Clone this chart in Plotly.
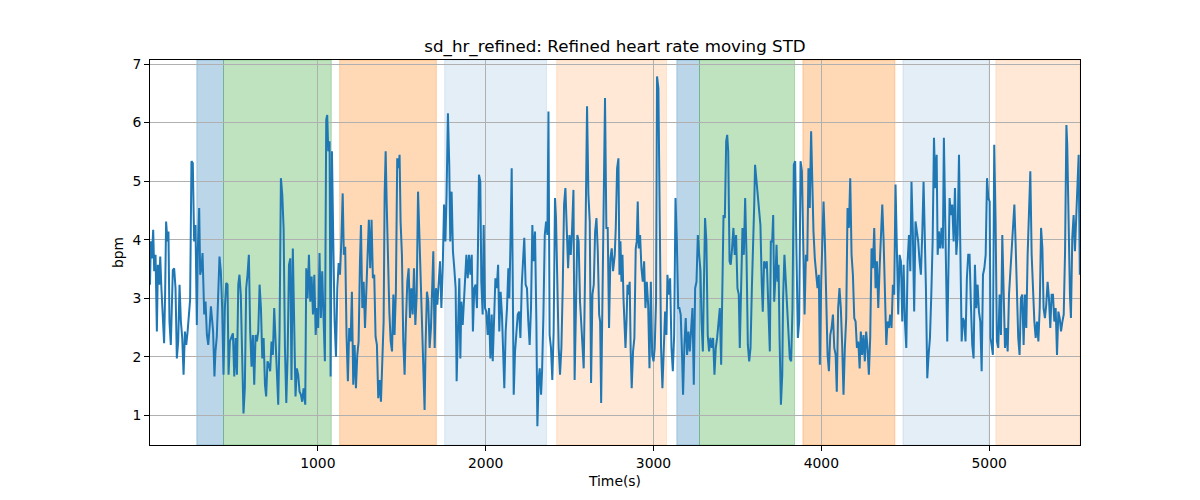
import plotly.graph_objects as go

# ---- data ----
time_s = [
    0, 5, 11, 19, 25, 33, 41, 47, 55, 61, 68, 76, 84, 90, 96, 104, 110, 116, 124, 130,
    136, 144, 152, 160, 168, 176, 184, 192, 200, 208, 216, 224, 231, 239, 247, 255, 263, 271, 279, 285,
    293, 299, 307, 313, 323, 331, 339, 347, 355, 363, 371, 376, 384, 390, 398, 406, 414, 422, 430, 438,
    446, 454, 462, 468, 476, 486, 494, 502, 510, 518, 526, 533, 541, 549, 557, 565, 573, 581, 589, 597,
    605, 613, 621, 629, 637, 645, 653, 661, 669, 677, 685, 692, 700, 708, 716, 724, 732, 740, 748, 756,
    764, 772, 780, 788, 796, 804, 812, 820, 828, 836, 843, 851, 859, 867, 875, 883, 891, 899, 907, 915,
    925, 931, 939, 947, 955, 963, 971, 979, 987, 995, 1002, 1010, 1018, 1026, 1034, 1042, 1050, 1056, 1062, 1070,
    1076, 1084, 1092, 1100, 1108, 1116, 1124, 1132, 1140, 1148, 1155, 1163, 1171, 1179, 1187, 1195, 1203, 1211, 1219, 1227,
    1235, 1243, 1251, 1257, 1265, 1273, 1281, 1289, 1297, 1304, 1312, 1320, 1328, 1336, 1344, 1352, 1360, 1368, 1376, 1384,
    1392, 1398, 1404, 1410, 1418, 1426, 1434, 1442, 1450, 1457, 1465, 1473, 1481, 1487, 1493, 1501, 1509, 1517, 1525, 1533,
    1541, 1549, 1557, 1565, 1573, 1581, 1589, 1597, 1605, 1612, 1620, 1628, 1636, 1642, 1650, 1658, 1666, 1674, 1682, 1688,
    1696, 1704, 1712, 1720, 1728, 1736, 1744, 1752, 1760, 1767, 1775, 1783, 1789, 1797, 1805, 1813, 1821, 1827, 1835, 1843,
    1849, 1855, 1863, 1869, 1877, 1885, 1893, 1901, 1909, 1917, 1924, 1932, 1940, 1948, 1954, 1960, 1968, 1974, 1982, 1988,
    1996, 2004, 2012, 2020, 2028, 2036, 2042, 2050, 2058, 2066, 2074, 2081, 2089, 2097, 2105, 2111, 2119, 2127, 2135, 2141,
    2147, 2155, 2161, 2167, 2175, 2183, 2191, 2199, 2207, 2215, 2223, 2230, 2238, 2246, 2254, 2262, 2270, 2278, 2286, 2294,
    2302, 2308, 2316, 2322, 2330, 2336, 2344, 2352, 2360, 2368, 2374, 2381, 2389, 2397, 2405, 2413, 2419, 2427, 2435, 2443,
    2451, 2459, 2467, 2475, 2483, 2491, 2499, 2507, 2515, 2523, 2530, 2538, 2546, 2554, 2562, 2570, 2578, 2584, 2592, 2598,
    2604, 2612, 2620, 2628, 2636, 2644, 2652, 2660, 2668, 2676, 2682, 2688, 2695, 2703, 2707, 2711, 2719, 2727, 2735, 2743,
    2751, 2759,
    2769, 2775, 2783, 2791, 2797, 2803, 2809, 2815, 2821, 2827, 2833, 2839, 2845, 2852, 2858, 2864, 2870, 2878, 2886, 2894,
    2900, 2906, 2912, 2920, 2928, 2936, 2944, 2952, 2960, 2968, 2976, 2984, 2992, 3000, 3007, 3015, 3021, 3029, 3037, 3045,
    3053, 3061, 3069, 3077, 3083, 3091, 3099, 3107, 3115, 3123, 3131, 3139, 3147, 3154, 3162, 3170, 3176, 3184, 3192, 3200,
    3208, 3216, 3224, 3232, 3240, 3248, 3256, 3264, 3272, 3280, 3286, 3294, 3300, 3307, 3315, 3323, 3331, 3339, 3347, 3355,
    3363, 3371, 3379, 3387, 3395, 3403, 3409, 3417, 3425, 3433, 3439, 3445, 3453, 3460, 3468, 3476, 3484, 3492, 3500, 3508,
    3514, 3522, 3530, 3538, 3546, 3554, 3562, 3570, 3578, 3586, 3594, 3600, 3605, 3613, 3621, 3629, 3637, 3645, 3651, 3659,
    3667, 3675, 3683,
    3693, 3699, 3707, 3713, 3719, 3727, 3733, 3739, 3745, 3751, 3759, 3767, 3772, 3780, 3788, 3796, 3804, 3812, 3820, 3828,
    3836, 3844, 3852, 3860, 3868, 3876, 3884, 3892, 3900, 3908, 3916, 3923, 3931, 3939, 3945, 3953, 3961, 3969, 3977, 3985,
    3991, 3999, 4005, 4013, 4021, 4029, 4037, 4045, 4053, 4061, 4069, 4077, 4085, 4092, 4100, 4108, 4116, 4124, 4132, 4140,
    4148, 4156, 4164, 4172, 4180, 4188, 4196, 4204, 4212, 4220, 4228, 4235, 4243, 4251, 4259, 4267, 4275, 4283, 4291, 4299,
    4307, 4315, 4323, 4331, 4339, 4347, 4355, 4363, 4371, 4379, 4387, 4394, 4402, 4410, 4418, 4426, 4434, 4442, 4450, 4458,
    4466, 4474, 4482, 4490, 4498, 4506, 4514, 4522, 4530, 4537, 4545, 4553, 4561, 4569, 4577, 4585, 4593, 4601, 4609,
    4623, 4631, 4639, 4647, 4655, 4663, 4671, 4679, 4687, 4693, 4700, 4708, 4716, 4724, 4730, 4738, 4744, 4750, 4758, 4764,
    4772, 4780, 4788, 4796, 4804, 4812, 4820, 4828, 4836, 4844, 4851, 4859, 4867, 4875, 4883, 4891, 4899, 4907, 4915, 4923,
    4931, 4939, 4947, 4955, 4963, 4971, 4979, 4987, 4995, 5003, 5008, 5014, 5022, 5030, 5038, 5046, 5054, 5062, 5070, 5078,
    5086, 5094, 5102, 5110, 5118, 5126, 5134, 5142, 5150, 5157, 5165, 5173, 5181, 5189, 5197, 5205, 5213, 5221, 5229, 5237,
    5245, 5253, 5261, 5269, 5277, 5285, 5293, 5301, 5309, 5317, 5324, 5332, 5340, 5348, 5356, 5364, 5372, 5380, 5388, 5396,
    5404, 5412, 5420, 5428, 5436, 5444, 5452, 5460, 5465, 5473, 5481, 5487, 5495, 5503, 5511, 5519, 5527, 5533, 5540,
]

sd_bpm = [
    3.23, 3.97, 3.68, 4.17, 3.46, 3.74, 2.43, 3.57, 3.23, 3.71, 3.17, 2.77, 2.23, 3.06, 4.31, 3.97, 4.14, 2.60, 2.20, 2.83,
    3.48, 3.51, 3.17, 1.97, 2.26, 3.23, 2.60, 2.32, 1.69, 2.43, 2.20, 2.43, 2.72, 2.97, 5.34, 5.31, 3.97, 4.25, 2.54, 3.85,
    4.54, 3.40, 3.51, 3.77, 2.72, 2.94, 2.37, 2.20, 2.49, 2.86, 2.60, 2.43, 1.66, 2.09, 2.34, 3.17, 3.71, 3.46, 2.83, 1.69,
    2.83, 3.26, 3.23, 1.69, 2.26, 2.34, 2.40, 1.66, 2.32, 1.69, 3.23, 3.40, 3.06, 2.03, 1.03, 1.46, 3.17, 3.40, 3.74, 2.43,
    1.83, 2.37, 1.52, 2.37, 2.26, 2.43, 3.23, 2.83, 1.97, 2.32, 1.52, 1.32, 1.92, 1.86, 1.75, 2.26, 2.03, 2.83, 2.32, 1.92,
    1.18, 2.43, 5.05, 4.77, 4.20, 2.15, 1.21, 2.03, 3.57, 3.68, 1.60, 3.85, 2.26, 1.32, 1.80, 1.69, 1.40, 1.35, 1.23, 1.46,
    1.18, 3.51, 3.00, 3.74, 2.94, 3.37, 2.72, 3.40, 2.37, 2.83, 2.49, 3.77, 2.66, 3.46, 2.66, 1.92, 6.05, 6.13, 5.51, 5.68,
    1.66, 5.51, 3.97, 2.60, 2.00, 3.17, 3.60, 3.40, 3.97, 4.79, 3.74, 3.88, 2.37, 1.58, 2.49, 2.26, 3.11, 1.52, 2.20, 1.46,
    2.03, 2.26, 3.63, 4.25, 2.83, 3.28, 2.49, 3.28, 3.74, 4.34, 3.51, 4.34, 3.34, 3.40, 2.34, 2.20, 1.29, 1.60, 1.23, 1.97,
    2.60, 4.77, 5.51, 4.65, 3.63, 2.77, 2.26, 2.09, 3.06, 2.37, 3.11, 5.39, 5.22, 5.45, 4.31, 3.74, 2.26, 1.69, 2.60, 3.28,
    3.51, 2.66, 3.17, 2.72, 3.51, 2.54, 3.06, 4.82, 4.08, 3.40, 3.00, 2.20, 1.09, 2.20, 3.11, 2.94, 2.15, 2.49, 3.51, 3.80,
    2.15, 3.17, 2.89, 3.40, 3.63, 2.83, 3.51, 4.60, 3.97, 4.77, 6.16, 5.28, 3.97, 4.82, 3.80, 3.51, 3.17, 1.58, 2.60, 3.34,
    1.97, 2.94, 2.54, 2.83, 3.40, 3.74, 3.34, 3.74, 3.40, 3.74, 2.43, 3.17, 3.23, 2.83, 3.85, 5.11, 4.99, 3.28, 2.72, 4.25,
    2.83, 2.77, 2.37, 2.83, 1.97, 2.72, 1.92, 2.83, 3.34, 3.17, 3.57, 2.43, 3.11, 2.72, 1.69, 1.46, 2.43, 2.83, 3.51, 3.00,
    3.85, 5.22, 3.40, 1.35, 2.09, 2.43, 2.72, 2.77, 2.32, 3.23, 3.57, 4.03, 3.23, 3.17, 2.60, 2.20, 2.83, 4.25, 3.63, 4.14,
    2.60, 0.81, 1.63, 1.80, 1.35, 1.75, 2.72, 4.08, 4.31, 4.08, 6.19, 2.37, 2.15, 1.60, 2.43, 4.71, 4.37, 3.17, 2.15, 1.69,
    2.15, 3.17, 4.60, 4.88, 3.97, 3.51, 4.08, 3.74, 4.20, 4.85, 1.60, 2.72, 4.08, 3.97, 2.94, 2.54, 2.20, 1.80, 3.40, 5.17,
    6.28, 4.77, 4.31, 1.55, 3.06, 3.23, 4.14, 4.37, 3.80, 2.72, 2.60, 1.21, 2.94, 4.31, 6.16, 6.42, 4.20, 4.20, 2.49, 3.68,
    3.85, 3.46,
    3.74, 4.20, 5.22, 5.39, 3.40, 3.97, 3.28, 3.74, 3.00, 2.60, 2.15, 2.60, 3.23, 3.06, 3.28, 2.09, 1.46, 2.09, 2.32, 3.85,
    3.97, 4.65, 3.85, 4.08, 3.51, 3.28, 3.63, 2.83, 3.28, 2.89, 1.80, 3.28, 2.03, 1.92, 2.15, 2.94, 6.79, 6.59, 4.31, 2.15,
    1.46, 2.03, 2.77, 2.37, 3.40, 3.06, 3.34, 2.15, 1.75, 2.37, 4.71, 3.97, 2.83, 2.83, 2.72, 2.03, 1.35, 2.20, 2.66, 2.03,
    2.43, 2.09, 2.60, 2.83, 1.52, 3.17, 3.28, 4.08, 3.74, 3.46, 2.60, 2.09, 3.17, 4.37, 3.97, 2.37, 2.09, 2.32, 2.15, 2.32,
    1.69, 2.15, 2.32, 2.54, 2.83, 1.86, 3.17, 4.42, 4.37, 5.68, 5.79, 5.51, 3.63, 3.57, 3.85, 4.20, 3.74, 4.08, 3.17, 3.06,
    2.15, 3.28, 4.20, 3.74, 4.71, 3.74, 2.20, 1.92, 2.15, 3.17, 3.85, 4.60, 5.28, 4.99, 4.71, 4.42, 4.25, 3.23, 2.77, 3.63,
    3.51, 3.63, 3.06,
    2.09, 3.97, 3.97, 4.42, 2.94, 3.40, 3.91, 3.28, 3.57, 2.32, 1.18, 1.69, 3.00, 3.74, 3.28, 3.00, 2.60, 1.97, 1.92, 2.83,
    5.28, 5.34, 3.74, 2.32, 2.60, 5.34, 5.17, 3.74, 2.72, 3.74, 3.63, 5.22, 4.54, 5.85, 4.99, 4.14, 3.68, 3.40, 3.17, 3.40,
    1.86, 3.28, 4.08, 4.65, 3.97, 2.83, 2.03, 1.75, 2.37, 2.49, 2.72, 2.15, 2.03, 1.40, 2.83, 3.17, 2.83, 2.20, 1.35, 2.15,
    2.66, 4.54, 4.20, 5.05, 3.74, 3.40, 2.66, 2.60, 2.15, 2.26, 1.80, 2.43, 2.03, 2.37, 1.92, 2.43, 2.15, 1.69, 2.32, 3.85,
    3.51, 4.20, 3.17, 3.63, 2.83, 3.51, 4.14, 4.60, 3.97, 2.94, 2.20, 2.60, 2.49, 2.72, 2.49, 3.23, 3.06, 4.94, 3.40, 2.72,
    3.74, 3.63, 2.60, 3.57, 2.60, 2.15, 3.63, 4.08, 3.46, 4.99, 4.14, 2.77, 4.31, 4.14, 3.97, 3.63, 3.40, 4.08, 4.99,
    3.17, 1.63, 2.03, 2.32, 3.06, 3.97, 5.74, 4.88, 5.45, 3.74, 4.14, 3.85, 4.20, 3.85, 5.74, 4.14, 2.89, 2.26, 3.63, 4.71,
    4.42, 4.60, 3.97, 4.88, 3.74, 4.08, 5.45, 4.20, 2.26, 2.66, 2.60, 2.26, 3.34, 3.74, 3.74, 2.89, 2.20, 1.97, 3.57, 2.83,
    3.23, 2.77, 2.60, 1.75, 3.40, 3.51, 3.74, 5.05, 4.71, 4.65, 2.32, 2.20, 2.03, 5.62, 4.31, 2.26, 2.15, 3.06, 2.37, 4.08,
    3.17, 2.15, 2.49, 2.09, 3.06, 3.51, 3.74, 4.20, 4.60, 3.97, 3.23, 2.32, 2.03, 3.00, 3.06, 2.20, 3.06, 2.49, 3.74, 4.31,
    5.17, 3.74, 3.00, 2.60, 2.32, 2.60, 2.26, 2.83, 4.20, 3.85, 2.83, 2.66, 2.89, 3.28, 3.00, 2.49, 3.06, 3.06, 2.60, 2.83,
    2.03, 2.77, 2.66, 2.43, 2.60, 2.72, 3.80, 5.96, 5.62, 3.85, 3.06, 2.66, 4.03, 4.42, 3.80, 4.42, 4.99, 5.45, 3.40,
]

# shaded phases (seconds)
band_start = [279, 438, 1130, 1756, 2423, 3139, 3274, 3890, 4486, 5040]
band_end = [438, 1080, 1706, 2362, 3077, 3274, 3840, 4438, 5000, 5541]
band_kind = ["blue", "green", "orange", "lightblue", "lightorange",
             "blue", "green", "orange", "lightblue", "lightorange"]

x_ticks = [1000, 2000, 3000, 4000, 5000]
y_ticks = [1, 2, 3, 4, 5, 6, 7]

# ---- styles ----
kind_fill = {
    "blue": "rgba(31,119,180,0.3)",
    "green": "rgba(44,160,44,0.3)",
    "orange": "rgba(255,127,14,0.3)",
    "lightblue": "rgba(31,119,180,0.12)",
    "lightorange": "rgba(255,127,14,0.17)",
}

FONT = "DejaVu Sans, Liberation Sans, Arial, sans-serif"
TICK = 13.9

fig = go.Figure()
fig.add_trace(go.Scatter(
    x=time_s, y=sd_bpm, mode="lines",
    line=dict(color="#1f77b4", width=2),
    showlegend=False, hoverinfo="x+y",
))

for s, e, k in zip(band_start, band_end, band_kind):
    fig.add_vrect(x0=s, x1=e, fillcolor=kind_fill[k], layer="below",
                  line=dict(color=kind_fill[k], width=1))

# page body has an 8px default margin, so margins are shifted accordingly
fig.update_layout(
    width=1200, height=500,
    margin=dict(l=142, r=128, t=52, b=63),
    paper_bgcolor="white", plot_bgcolor="white",
    font=dict(family=FONT, size=TICK, color="black"),
    title=dict(text="sd_hr_refined: Refined heart rate moving STD",
               x=0.5, xanchor="center", xref="paper",
               y=1 - 38 / 500, yanchor="middle", yref="container",
               font=dict(family=FONT, size=16.7, color="black")),
    showlegend=False,
)

fig.update_xaxes(
    range=[0, 5541], tickvals=x_ticks, ticktext=[str(v) for v in x_ticks],
    showgrid=True, gridcolor="#b0b0b0", gridwidth=1, zeroline=False,
    showline=True, linecolor="black", linewidth=1, mirror=True,
    ticks="outside", ticklen=5, tickcolor="black", tickwidth=1,
    tickfont=dict(family=FONT, size=TICK, color="black"),
    title=dict(text="Time(s)", font=dict(family=FONT, size=TICK, color="black"), standoff=6),
)
fig.update_yaxes(
    range=[0.49, 7.07], tickvals=y_ticks, ticktext=[str(v) for v in y_ticks],
    showgrid=True, gridcolor="#b0b0b0", gridwidth=1, zeroline=False,
    showline=True, linecolor="black", linewidth=1, mirror=True,
    ticks="outside", ticklen=5, tickcolor="black", tickwidth=1,
    tickfont=dict(family=FONT, size=TICK, color="black"),
    title=dict(text="bpm", font=dict(family=FONT, size=TICK, color="black"), standoff=5),
)

fig.write_html("out.html")
